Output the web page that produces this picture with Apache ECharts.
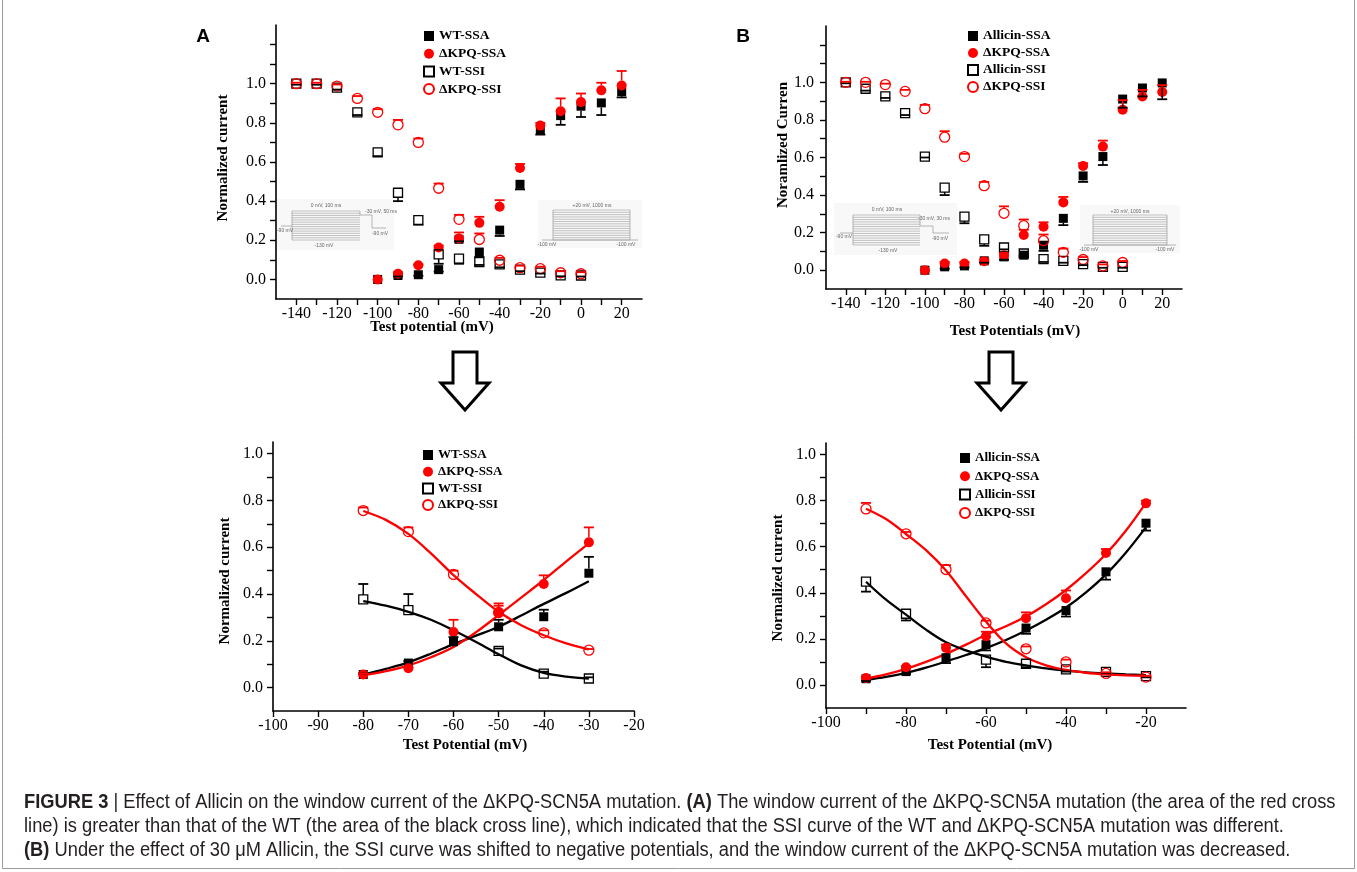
<!DOCTYPE html>
<html><head><meta charset="utf-8">
<script src="https://cdn.jsdelivr.net/npm/echarts@6/dist/echarts.min.js"></script>
<style>html,body{margin:0;padding:0;background:#fff}#c{width:1357px;height:872px}</style>
</head><body><div id="c"></div>
<script>
// ---------- DATA ----------
const vTop = [-140,-130,-120,-110,-100,-90,-80,-70,-60,-50,-40,-30,-20,-10,0,10,20];
// Panel A (top)
const aWtSsa     = [null,null,null,null,0.0,0.02,0.024,0.05,0.205,0.14,0.252,0.486,0.765,0.837,0.885,0.902,0.959];
const aWtSsaErr  = [0,0,0,0,0,0.005,0.005,0.01,0.01,0.025,0.03,0.026,0.025,0.047,0.055,0.062,0.029];
const aKpqSsa    = [null,null,null,null,0.0,0.029,0.072,0.163,0.209,0.289,0.371,0.569,0.786,0.859,0.906,0.966,0.991];
const aKpqSsaErr = [0,0,0,0,0,0.005,0.005,0.01,0.031,0.031,0.034,0.021,0.014,0.066,0.044,0.039,0.074];
const aWtSsi     = [1.0,1.0,0.98,0.854,0.649,0.443,0.303,0.128,0.106,0.089,0.077,0.05,0.035,0.021,0.02,null,null];
const aWtSsiErr  = [0.005,0.005,0.01,0.014,0.019,0.043,0.023,0.048,0.026,0.015,0.015,0.008,0.005,0.005,0.005,0,0];
const aKpqSsi    = [1.0,1.0,0.988,0.925,0.854,0.79,0.70,0.466,0.307,0.204,0.098,0.06,0.055,0.034,0.029,null,null];
const aKpqSsiErr = [0.005,0.005,0.008,0.012,0.016,0.025,0.02,0.024,0.023,0.031,0.012,0.01,0.01,0.008,0.008,0,0];
// Panel B (top)
const bAlSsa     = [null,null,null,null,0.0,0.018,0.023,0.05,0.071,0.08,0.133,0.276,0.502,0.605,0.911,0.97,0.997];
const bAlSsaErr  = [0,0,0,0,0,0.01,0.008,0.01,0.015,0.01,0.03,0.036,0.032,0.045,0.046,0.045,0.087];
const bKpqSsa    = [null,null,null,null,0.0,0.036,0.036,0.048,0.08,0.187,0.231,0.361,0.555,0.658,0.854,0.925,0.949];
const bKpqSsaErr = [0,0,0,0,0,0.008,0.008,0.01,0.012,0.028,0.024,0.029,0.015,0.032,0.051,0.035,0.036];
const bAlSsi     = [1.0,0.966,0.925,0.836,0.605,0.44,0.285,0.164,0.121,0.089,0.059,0.05,0.032,0.018,0.018,null,null];
const bAlSsiErr  = [0.005,0.01,0.008,0.01,0.005,0.04,0.035,0.034,0.01,0.01,0.015,0.01,0.005,0.005,0.005,0,0];
const bKpqSsi    = [1.0,1.0,0.988,0.952,0.86,0.708,0.605,0.45,0.303,0.237,0.157,0.095,0.057,0.023,0.041,null,null];
const bKpqSsiErr = [0.003,0.003,0.005,0.008,0.02,0.032,0.015,0.02,0.037,0.033,0.033,0.02,0.013,0.008,0.008,0,0];
// Panel A (bottom)
const vA2 = [-80,-70,-60,-50,-40,-30];
const cWtSsa     = [0.056,0.105,0.196,0.26,0.303,0.489];
const cWtSsaErr  = [0.005,0.008,0.02,0.03,0.03,0.07];
const cKpqSsa    = [0.056,0.083,0.238,0.32,0.443,0.621];
const cKpqSsaErr = [0.005,0.005,0.052,0.03,0.037,0.064];
const cWtSsi     = [0.377,0.331,null,0.157,0.06,0.039];
const cWtSsiErr  = [0.066,0.069,0,0.01,0.008,0.005];
const cKpqSsi    = [0.757,0.667,0.484,0.321,0.234,0.16];
const cKpqSsiErr = [0.013,0.018,0.016,0.039,0.011,0.005];
const cFitX      = [-80,-75,-70,-65,-60,-55,-50,-45,-40,-35,-30];
const cFitWtSsa  = [0.055,0.08,0.108,0.145,0.186,0.222,0.26,0.308,0.358,0.405,0.455];
const cFitKpqSsa = [0.052,0.07,0.095,0.13,0.174,0.237,0.31,0.385,0.46,0.54,0.617];
const cFitWtSsi  = [0.37,0.35,0.324,0.29,0.245,0.195,0.143,0.095,0.063,0.047,0.038];
const cFitKpqSsi = [0.755,0.717,0.657,0.574,0.481,0.40,0.324,0.267,0.224,0.189,0.163];
// Panel B (bottom)
const vB2 = [-90,-80,-70,-60,-50,-40,-30,-20];
const dAlSsa     = [0.027,0.058,0.118,0.175,0.247,0.323,0.491,0.702];
const dAlSsaErr  = [0.01,0.01,0.023,0.025,0.025,0.026,0.034,0.032];
const dKpqSsa    = [0.03,0.077,0.161,0.211,0.29,0.376,0.573,0.788];
const dKpqSsaErr = [0.005,0.005,0.014,0.02,0.025,0.034,0.017,0.012];
const dAlSsi     = [0.448,0.309,null,0.11,0.092,0.068,0.057,0.038];
const dAlSsiErr  = [0.043,0.029,0,0.033,0.015,0.01,0.005,0.005];
const dKpqSsi    = [0.764,0.656,0.501,0.269,0.157,0.1,0.05,0.034];
const dKpqSsiErr = [0.026,0.008,0.019,0.01,0.01,0.01,0.005,0.005];
const dFitX      = [-90,-85,-80,-75,-70,-65,-60,-55,-50,-45,-40,-35,-30,-25,-20];
const dFitAlSsa  = [0.022,0.035,0.052,0.075,0.102,0.13,0.16,0.195,0.236,0.283,0.336,0.402,0.48,0.575,0.685];
const dFitKpqSsa = [0.028,0.046,0.07,0.1,0.135,0.175,0.218,0.255,0.297,0.35,0.412,0.485,0.568,0.67,0.79];
const dFitAlSsi  = [0.448,0.37,0.305,0.24,0.185,0.15,0.123,0.1,0.085,0.072,0.062,0.055,0.05,0.046,0.043];
const dFitKpqSsi = [0.765,0.72,0.655,0.585,0.497,0.385,0.275,0.18,0.12,0.085,0.065,0.053,0.046,0.042,0.04];
// tick labels
const xTicksTop   = [-140,-130,-120,-110,-100,-90,-80,-70,-60,-50,-40,-30,-20,-10,0,10,20];
const xLabelsTop  = [-140,-120,-100,-80,-60,-40,-20,0,20];
const xTicksA2    = [-100,-90,-80,-70,-60,-50,-40,-30,-20];
const xLabelsA2   = [-100,-90,-80,-70,-60,-50,-40,-30,-20];
const xTicksB2    = [-100,-90,-80,-70,-60,-50,-40,-30,-20];
const xLabelsB2   = [-100,-80,-60,-40,-20];
const yTicksTop   = [0,0.1,0.2,0.3,0.4,0.5,0.6,0.7,0.8,0.9,1.0,1.1,1.2];
const yTicksBot   = [0,0.1,0.2,0.3,0.4,0.5,0.6,0.7,0.8,0.9,1.0];
const yLabels     = [0,0.2,0.4,0.6,0.8,1.0];

// ---------- HELPERS ----------
const SERIF = '"Liberation Serif","Times New Roman",serif';
const RED = '#ff0000', BLK = '#000000';
const grids = [
  {left:276, top:25, width:366, height:274},
  {left:826, top:26, width:356, height:263},
  {left:273, top:442, width:361, height:269},
  {left:826, top:443, width:360, height:265}
];
function xAxis(gi, min, max, ticks, labels){
  return {type:'value', gridIndex:gi, min, max, interval:10,
    axisLine:{onZero:false, lineStyle:{color:BLK, width:1.6}},
    axisTick:{length:6, lineStyle:{color:BLK, width:1.4}, customValues:ticks},
    axisLabel:{customValues:labels, margin:7, fontFamily:SERIF, fontSize:16, color:BLK,
      formatter:v=>labels.indexOf(Math.round(v))>=0?String(Math.round(v)):''},
    splitLine:{show:false}};
}
function yAxis(gi, max, ticks, margin){
  return {type:'value', gridIndex:gi, min:-0.1, max, interval:0.1,
    axisLine:{onZero:false, lineStyle:{color:BLK, width:1.6}},
    axisTick:{length:6, lineStyle:{color:BLK, width:1.4}, customValues:ticks},
    axisLabel:{customValues:yLabels, margin, fontFamily:SERIF, fontSize:16, color:BLK,
      formatter:v=>{const n=Math.round(v*10); return (n>=0&&n<=10&&n%2===0)?(n/10).toFixed(1):'';}},
    splitLine:{show:false}};
}
function pts(xs, ys){ const o=[]; xs.forEach((x,i)=>{ if(ys[i]!=null) o.push([x,ys[i]]); }); return o; }
const STY = {
  ssaB:{symbol:'rect', size:9, itemStyle:{color:BLK, opacity:1}},
  ssaR:{symbol:'circle', size:10, itemStyle:{color:RED, opacity:1}},
  ssiB:{symbol:'rect', size:9, itemStyle:{color:'rgba(255,255,255,0)', borderColor:BLK, borderWidth:1.3, opacity:1}},
  ssiR:{symbol:'circle', size:10, itemStyle:{color:'rgba(255,255,255,0)', borderColor:RED, borderWidth:1.3, opacity:1}}
};
function scatter(gi, name, xs, ys, st, sz){
  return {type:'scatter', name, xAxisIndex:gi, yAxisIndex:gi, data:pts(xs,ys), symbol:st.symbol,
    symbolSize:sz||st.size, itemStyle:st.itemStyle, z:2, silent:true};
}
function errBars(gi, xs, ys, es, dir, color, half){
  const data=[]; xs.forEach((x,i)=>{ if(ys[i]!=null && es[i]) data.push([x,ys[i],es[i]]); });
  return {type:'custom', xAxisIndex:gi, yAxisIndex:gi, z:3, silent:true, data, encode:{x:0,y:1},
    renderItem(params, api){
      const x=api.value(0), y=api.value(1), e=api.value(2);
      const p0=api.coord([x,y]), p1=api.coord([x,y+dir*e]);
      const d=Math.abs(p1[1]-p0[1]); const off=Math.min(half,d);
      const sy=p0[1]-dir*off;
      return {type:'group', children:[
        {type:'line', shape:{x1:p0[0],y1:sy,x2:p1[0],y2:p1[1]}, style:{stroke:color,lineWidth:1.5}},
        {type:'line', shape:{x1:p1[0]-5,y1:p1[1],x2:p1[0]+5,y2:p1[1]}, style:{stroke:color,lineWidth:1.8}}
      ]};
    }};
}
function fit(gi, xs, ys, color){
  return {type:'line', name:'fit', xAxisIndex:gi, yAxisIndex:gi, data:xs.map((x,i)=>[x,ys[i]]),
    smooth:0.35, showSymbol:false, silent:true, z:1, lineStyle:{color, width:2.3}};
}
function legend(left, top, gap, names, fs){
  return {left, top, orient:'vertical', itemWidth:10, itemHeight:10, itemGap:gap, selectedMode:false,
    data:names, textStyle:{fontFamily:SERIF, fontWeight:'bold', fontSize:fs, lineHeight:14, color:BLK}};
}

// ---------- SERIES ----------
const series = [
  // A top
  errBars(0, vTop, aWtSsa, aWtSsaErr, -1, BLK, 4.5),
  errBars(0, vTop, aKpqSsa, aKpqSsaErr, 1, RED, 5),
  errBars(0, vTop, aWtSsi, aWtSsiErr, -1, BLK, 4.5),
  errBars(0, vTop, aKpqSsi, aKpqSsiErr, 1, RED, 5),
  scatter(0,'WT-SSA', vTop, aWtSsa, STY.ssaB),
  scatter(0,'ΔKPQ-SSA', vTop, aKpqSsa, STY.ssaR),
  scatter(0,'WT-SSI', vTop, aWtSsi, STY.ssiB),
  scatter(0,'ΔKPQ-SSI', vTop, aKpqSsi, STY.ssiR),
  // B top
  errBars(1, vTop, bAlSsa, bAlSsaErr, -1, BLK, 4.5),
  errBars(1, vTop, bKpqSsa, bKpqSsaErr, 1, RED, 5),
  errBars(1, vTop, bAlSsi, bAlSsiErr, -1, BLK, 4.5),
  errBars(1, vTop, bKpqSsi, bKpqSsiErr, 1, RED, 5),
  scatter(1,'Allicin-SSA', vTop, bAlSsa, STY.ssaB),
  scatter(1,'ΔKPQ-SSA', vTop, bKpqSsa, STY.ssaR),
  scatter(1,'Allicin-SSI', vTop, bAlSsi, STY.ssiB),
  scatter(1,'ΔKPQ-SSI', vTop, bKpqSsi, STY.ssiR),
  // A bottom
  fit(2, cFitX, cFitWtSsa, BLK), fit(2, cFitX, cFitKpqSsa, RED),
  fit(2, cFitX, cFitWtSsi, BLK), fit(2, cFitX, cFitKpqSsi, RED),
  errBars(2, vA2, cWtSsa, cWtSsaErr, 1, BLK, 4.5),
  errBars(2, vA2, cKpqSsa, cKpqSsaErr, 1, RED, 5),
  errBars(2, vA2, cWtSsi, cWtSsiErr, 1, BLK, 4.5),
  errBars(2, vA2, cKpqSsi, cKpqSsiErr, 1, RED, 5),
  scatter(2,'WT-SSA', vA2, cWtSsa, STY.ssaB),
  scatter(2,'ΔKPQ-SSA', vA2, cKpqSsa, STY.ssaR),
  scatter(2,'WT-SSI', vA2, cWtSsi, STY.ssiB),
  scatter(2,'ΔKPQ-SSI', vA2, cKpqSsi, STY.ssiR),
  // B bottom
  fit(3, dFitX, dFitAlSsa, BLK), fit(3, dFitX, dFitKpqSsa, RED),
  fit(3, dFitX, dFitAlSsi, BLK), fit(3, dFitX, dFitKpqSsi, RED),
  errBars(3, vB2, dAlSsa, dAlSsaErr, -1, BLK, 4.5),
  errBars(3, vB2, dKpqSsa, dKpqSsaErr, 1, RED, 5),
  errBars(3, vB2, dAlSsi, dAlSsiErr, -1, BLK, 4.5),
  errBars(3, vB2, dKpqSsi, dKpqSsiErr, 1, RED, 5),
  scatter(3,'Allicin-SSA', vB2, dAlSsa, STY.ssaB),
  scatter(3,'ΔKPQ-SSA', vB2, dKpqSsa, STY.ssaR),
  scatter(3,'Allicin-SSI', vB2, dAlSsi, STY.ssiB),
  scatter(3,'ΔKPQ-SSI', vB2, dKpqSsi, STY.ssiR)
];

// ---------- DECORATION (titles, insets, arrows, caption) ----------
function txt(x, y, text, font, opts){
  return Object.assign({type:'text', x, y, silent:true, style:Object.assign({text, font, fill:BLK, align:'center', verticalAlign:'middle'}, (opts&&opts.style)||{})}, (opts&&opts.el)||{});
}
const G = [];
const TF = 'bold 15px ' + SERIF;
G.push(txt(432, 327, 'Test potential (mV)', TF));
G.push(txt(1015, 331, 'Test Potentials (mV)', TF));
G.push(txt(465, 745, 'Test Potential (mV)', TF));
G.push(txt(990, 745, 'Test Potential (mV)', TF));
G.push(txt(223, 158, 'Normalized current', TF, {el:{rotation:Math.PI/2}}));
G.push(txt(783, 145, 'Noramlized Curren', TF, {el:{rotation:Math.PI/2}}));
G.push(txt(225, 581, 'Normalized current', TF, {el:{rotation:Math.PI/2}}));
G.push(txt(778, 578, 'Normalized current', TF, {el:{rotation:Math.PI/2}}));
G.push(txt(203, 37, 'A', 'bold 19px "Liberation Sans",Arial,sans-serif'));
G.push(txt(743, 37, 'B', 'bold 19px "Liberation Sans",Arial,sans-serif'));

const IC = '#9a9a9a', IT = '#666';
function ln(x1,y1,x2,y2,w){ return {type:'line', silent:true, shape:{x1,y1,x2,y2}, style:{stroke:IC, lineWidth:w||0.7}}; }
function tiny(x,y,t){ return {type:'text', x, y, silent:true, style:{text:t, font:'5px "Liberation Sans",sans-serif', fill:IT, align:'center', verticalAlign:'middle'}}; }
function leftInset(bx0,by0,bx1,by1,stubX,baseY,stepY,stepX,endY,endX,labs){
  G.push({type:'rect', silent:true, shape:{x:stubX-6,y:by0-12,width:endX-stubX+14,height:by1-by0+22}, style:{fill:'#f8f8f8'}});
  for(let i=0;i<14;i++){ const y=by0+(by1-by0)*i/13; G.push(ln(bx0,y,bx1,y,0.6)); }
  G.push(ln(bx0,by0,bx0,by1)); G.push(ln(bx1,by0,bx1,stepY));
  G.push(ln(stubX,baseY,bx0,baseY));
  G.push(ln(bx1,stepY,stepX,stepY)); G.push(ln(stepX,stepY,stepX,endY)); G.push(ln(stepX,endY,endX,endY));
  labs.forEach(l=>G.push(tiny(l[0],l[1],l[2])));
}
function rightInset(bx0,by0,bx1,by1,b0,b1,labs){
  G.push({type:'rect', silent:true, shape:{x:b0-4,y:by0-10,width:b1-b0+8,height:by1-by0+18}, style:{fill:'#f8f8f8'}});
  for(let i=0;i<14;i++){ const y=by0+(by1-by0)*i/13; G.push(ln(bx0,y,bx1,y,0.6)); }
  G.push(ln(bx0,by0,bx0,by1)); G.push(ln(bx1,by0,bx1,by1));
  G.push(ln(b0,by1,b1,by1));
  labs.forEach(l=>G.push(tiny(l[0],l[1],l[2])));
}
leftInset(292,211,360,240,281,226,215,372,228,386,
  [[326,206,'0 mV, 100 ms'],[381,212,'-30 mV, 50 ms'],[285,231,'-90 mV'],[380,234,'-90 mV'],[324,246,'-130 mV']]);
rightInset(553,210,630,240,542,638,[[592,206,'+20 mV, 1000 ms'],[547,245,'-100 mV'],[626,245,'-100 mV']]);
leftInset(853,215,920,245,840,233,226,933,233,949,
  [[887,210,'0 mV, 100 ms'],[934,219,'-30 mV, 30 ms'],[844,237,'-90 mV'],[940,239,'-90 mV'],[888,251,'-130 mV']]);
rightInset(1093,215,1167,245,1084,1176,[[1130,212,'+20 mV, 1000 ms'],[1089,250,'-100 mV'],[1165,250,'-100 mV']]);

function arrow(cx){
  return {type:'polygon', silent:true, shape:{points:[[cx-12,352],[cx+12,352],[cx+12,383],[cx+24,383],[cx,410],[cx-24,383],[cx-12,383]]},
    style:{fill:'#fff', stroke:BLK, lineWidth:3, lineJoin:'miter'}};
}
G.push(arrow(465)); G.push(arrow(1001));

const CAP = '"Liberation Sans",Arial,sans-serif';
function cap(y, text){
  return {type:'text', x:24, y, scaleX:0.915, scaleY:1, silent:true,
    style:{text, fontFamily:CAP, fontSize:20, fill:'#231f20', align:'left', verticalAlign:'middle',
    rich:{b:{fontFamily:CAP, fontSize:20, fontWeight:'bold', fill:'#231f20'}}}};
}
G.push(cap(802, '{b|FIGURE 3} | Effect of Allicin on the window current of the ΔKPQ-SCN5A mutation. {b|(A)} The window current of the ΔKPQ-SCN5A mutation (the area of the red cross'));
G.push(cap(826, 'line) is greater than that of the WT (the area of the black cross line), which indicated that the SSI curve of the WT and ΔKPQ-SCN5A mutation was different.'));
G.push(cap(850, '{b|(B)} Under the effect of 30 μM Allicin, the SSI curve was shifted to negative potentials, and the window current of the ΔKPQ-SCN5A mutation was decreased.'));
G.push({type:'polyline', silent:true, shape:{points:[[2.5,0],[2.5,868.5],[1354.5,868.5],[1354.5,0]]}, style:{stroke:'#9a9a9a', lineWidth:1, fill:null}});

// ---------- CHART ----------
const chart = echarts.init(document.getElementById('c'), null, {renderer:'canvas'});
chart.setOption({
  backgroundColor:'#fff',
  animation:false,
  grid:grids,
  xAxis:[xAxis(0,-150,30,xTicksTop,xLabelsTop), xAxis(1,-150,30,xTicksTop,xLabelsTop),
         xAxis(2,-100,-20,xTicksA2,xLabelsA2), xAxis(3,-100,-10,xTicksB2,xLabelsB2)],
  yAxis:[yAxis(0,1.3,yTicksTop,10), yAxis(1,1.3,yTicksTop,12), yAxis(2,1.05,yTicksBot,10), yAxis(3,1.05,yTicksBot,10)],
  legend:[
    legend(418, 24, 3.7, ['WT-SSA','ΔKPQ-SSA','WT-SSI','ΔKPQ-SSI'], 13.5),
    legend(962, 24, 3, ['Allicin-SSA','ΔKPQ-SSA','Allicin-SSI','ΔKPQ-SSI'], 13.5),
    legend(417, 443, 2.7, ['WT-SSA','ΔKPQ-SSA','WT-SSI','ΔKPQ-SSI'], 13),
    legend(954, 446, 4.3, ['Allicin-SSA','ΔKPQ-SSA','Allicin-SSI','ΔKPQ-SSI'], 13)
  ],
  series,
  graphic:{elements:G}
});
</script></body></html>
